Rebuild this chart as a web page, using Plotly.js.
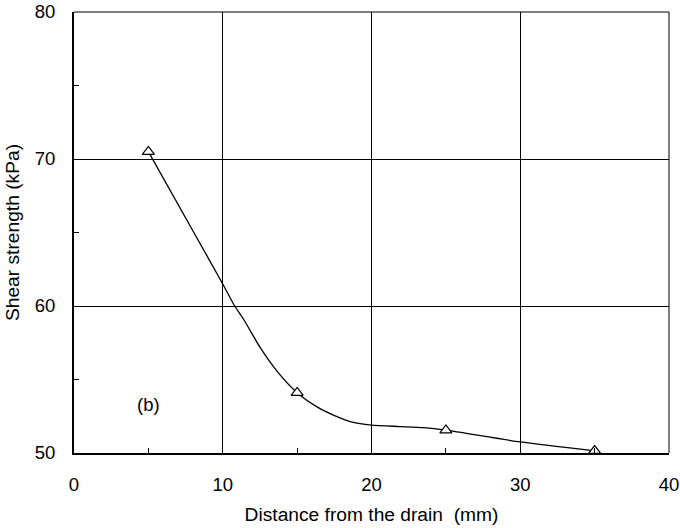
<!DOCTYPE html>
<html>
<head>
<meta charset="utf-8">
<script src="https://cdn.plot.ly/plotly-3.0.1.min.js"></script>
<style>html,body{margin:0;padding:0;background:#fff;}#chart{width:680px;height:528px;}</style>
</head>
<body>
<div id="chart"></div>
<script>
// Measured points
const distance = [5, 15, 25, 35];
const shearStrength = [70.5, 54.1, 51.55, 50.15];
// Smoothed curve as drawn in the figure
const curveX = [5, 8, 10, 10.8, 11.4, 12.5, 13.7, 15, 16.4, 17.4, 18.7, 20, 21.9, 23.5, 25, 30, 35];
const curveY = [70.5, 65.1, 61.5, 60.0, 59.1, 57.2, 55.5, 54.1, 53.1, 52.6, 52.1, 51.9, 51.8, 51.72, 51.55, 50.75, 50.15];
const xTicks = [0, 10, 20, 30, 40];
const yTicks = [50, 60, 70, 80];
const panelLabel = '(b)';

const font = 'Liberation Sans, Arial, sans-serif';

const traces = [
  {
    x: curveX, y: curveY, mode: 'lines', type: 'scatter',
    line: {color: '#000', width: 1.3, shape: 'spline', smoothing: 0.6},
    hoverinfo: 'skip', showlegend: false, cliponaxis: false
  },
  {
    x: distance, y: shearStrength, mode: 'markers', type: 'scatter',
    marker: {symbol: 'triangle-up', size: 10.5, color: '#fff', line: {color: '#000', width: 1.2}},
    showlegend: false, cliponaxis: false
  }
];

const layout = {
  width: 680, height: 528,
  margin: {l: 74, r: 11, t: 12, b: 75},
  paper_bgcolor: '#fff', plot_bgcolor: '#fff',
  font: {family: font, color: '#000', size: 18.5},
  xaxis: {
    range: [0, 40], tickvals: xTicks, ticktext: xTicks.map(String),
    showgrid: true, gridcolor: '#000', gridwidth: 1,
    zeroline: false, showline: true, linecolor: '#000', linewidth: 2,
    ticks: '', tickfont: {family: font, size: 18.5}, ticklabelstandoff: 14,
    minor: {tickvals: [5, 15, 25, 35], ticks: 'inside', ticklen: 5, tickcolor: '#000', tickwidth: 1, showgrid: false},
    title: {text: 'Distance from the drain&nbsp;&nbsp;(mm)', font: {family: font, size: 19.2}, standoff: 13},
    fixedrange: true
  },
  yaxis: {
    range: [50, 80], tickvals: yTicks, ticktext: yTicks.map(String),
    showgrid: true, gridcolor: '#000', gridwidth: 1,
    zeroline: false, showline: true, linecolor: '#000', linewidth: 2,
    ticks: '', tickfont: {family: font, size: 18.5}, ticklabelstandoff: 13,
    minor: {tickvals: [55, 65, 75], ticks: 'inside', ticklen: 5, tickcolor: '#000', tickwidth: 1, showgrid: false},
    title: {text: 'Shear strength (kPa)', font: {family: font, size: 19.2}, standoff: 10},
    fixedrange: true
  },
  shapes: [
    {type: 'line', xref: 'paper', yref: 'paper', x0: 0, x1: 1, y0: 1, y1: 1, line: {color: '#000', width: 1}},
    {type: 'line', xref: 'paper', yref: 'paper', x0: 1, x1: 1, y0: 0, y1: 1, line: {color: '#000', width: 1}}
  ],
  annotations: [
    {x: 5, y: 53.3, xref: 'x', yref: 'y', text: panelLabel, showarrow: false, font: {family: font, size: 18.5, color: '#000'}}
  ]
};

Plotly.newPlot('chart', traces, layout, {displayModeBar: false, staticPlot: true});
</script>
</body>
</html>
